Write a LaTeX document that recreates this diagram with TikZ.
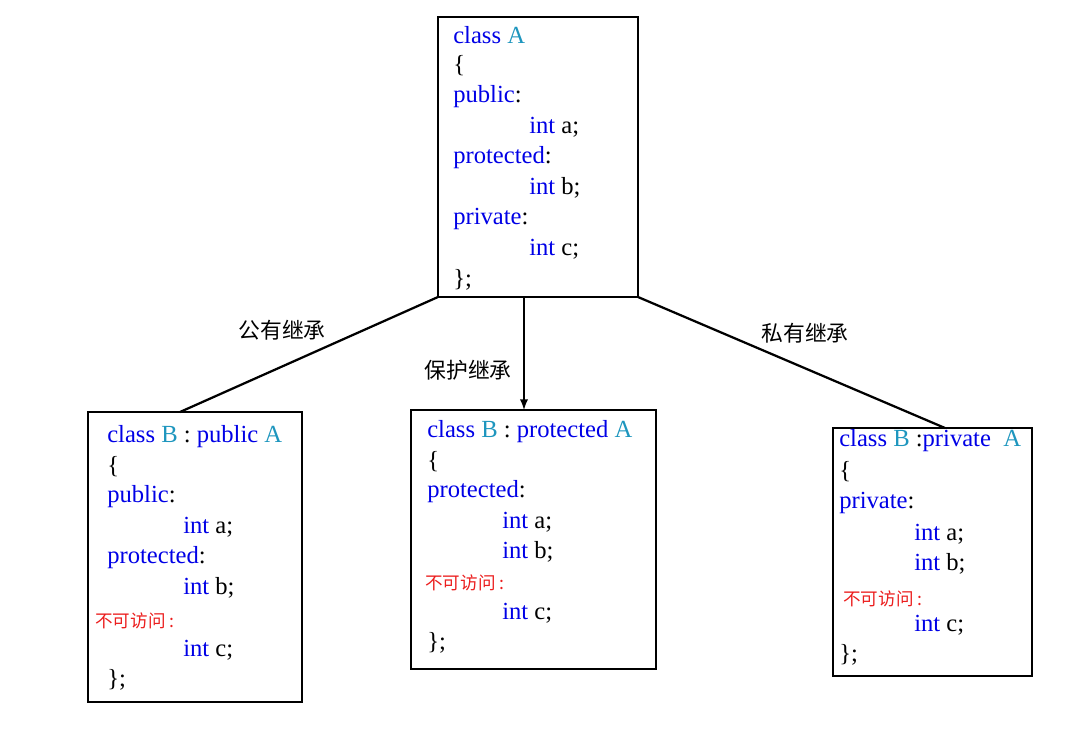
\documentclass[tikz,border=0pt]{standalone}
\usepackage{fontspec}
\setmainfont{Liberation Serif}
\newfontfamily\cjk{Noto Sans CJK SC}
\tikzset{>=latex}
\definecolor{kw}{RGB}{0,0,230}
\definecolor{cn}{RGB}{30,150,190}
\definecolor{na}{RGB}{235,30,30}
\tikzset{
  codebox/.style={draw, thick},
  ln/.style={anchor=west, inner sep=0pt, font=\fontsize{17.5}{19}\selectfont},
  redln/.style={anchor=west, inner sep=0pt, text=na, font=\cjk\fontsize{12.5}{14}\selectfont},
  lab/.style={font=\cjk\fontsize{15.5}{17}\selectfont},
  edge/.style={line width=1.6pt}
}
\newcommand{\kw}[1]{\textcolor{kw}{#1}}
\newcommand{\cn}[1]{\textcolor{cn}{#1}}
\begin{document}
\begin{tikzpicture}[x=0.025cm, y=-0.025cm]
    \useasboundingbox (0, 0) rectangle (1074, 732);
    % boxes
    \draw[codebox](438, 17) rectangle (638, 297);
    \draw[codebox](88, 412) rectangle (302, 702);
    \draw[codebox](411, 410) rectangle (656, 669);
    \draw[codebox](833, 428) rectangle (1032, 676);
    \coordinate (a1) at (438, 297);
    \coordinate (a2) at (524, 297);
    \coordinate (a3) at (638, 297);
    \coordinate (b1) at (180, 412);
    \coordinate (b2) at (524, 410);
    \coordinate (b3) at (945, 428);
    \draw[edge](a1)--(b1);
    \draw[edge,->](a2)--(b2);
    \draw[edge](a3)--(b3);
    \node[lab] (l1) at (282, 330){公有继承};
    \node[lab] (l2) at (468, 370){保护继承};
    \node[lab] (l3) at (805, 333){私有继承};
    % class A
    \node[ln] at (453, 35){\kw{class} \cn{A}};
    \node[ln] at (453, 66){\{};
    \node[ln] at (453, 97){\kw{public}:};
    \node[ln] at (529, 127){\kw{int} a;};
    \node[ln] at (453, 158){\kw{protected}:};
    \node[ln] at (529, 188){\kw{int} b;};
    \node[ln] at (453, 219){\kw{private}:};
    \node[ln] at (529, 249){\kw{int} c;};
    \node[ln] at (453, 280){\};};
    % public
    \node[ln] at (107, 437){\kw{class} \cn{B} : \kw{public} \cn{A}};
    \node[ln] at (107, 467){\{};
    \node[ln] at (107, 497){\kw{public}:};
    \node[ln] at (183, 527){\kw{int} a;};
    \node[ln] at (107, 558){\kw{protected}:};
    \node[ln] at (183, 588){\kw{int} b;};
    \node[redln] at (95, 621){不可访问 :};
    \node[ln] at (183, 650){\kw{int} c;};
    \node[ln] at (107, 680){\};};
    % protected
    \node[ln] at (427, 432){\kw{class} \cn{B} : \kw{protected} \cn{A}};
    \node[ln] at (427, 462){\{};
    \node[ln] at (427, 492){\kw{protected}:};
    \node[ln] at (502, 522){\kw{int} a;};
    \node[ln] at (502, 552){\kw{int} b;};
    \node[redln] at (425, 583){不可访问 :};
    \node[ln] at (502, 613){\kw{int} c;};
    \node[ln] at (427, 643){\};};
    % private
    \node[ln] at (839, 441){\kw{class} \cn{B} :\kw{private} \ \cn{A}};
    \node[ln] at (839, 472){\{};
    \node[ln] at (839, 503){\kw{private}:};
    \node[ln] at (914, 534){\kw{int} a;};
    \node[ln] at (914, 564){\kw{int} b;};
    \node[redln] at (843, 599){不可访问 :};
    \node[ln] at (914, 625){\kw{int} c;};
    \node[ln] at (839, 655){\};};
\end{tikzpicture}
\end{document}
